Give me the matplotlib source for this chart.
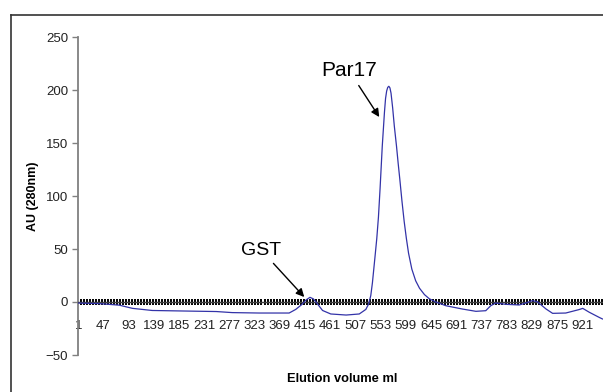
import matplotlib
matplotlib.use('Agg')
import matplotlib.pyplot as plt
from matplotlib.lines import Line2D
from matplotlib.ticker import FixedLocator, MultipleLocator

plt.rcParams['font.family'] = ['Liberation Sans', 'DejaVu Sans']

# fraction number (category) and absorbance
fraction = [1, 39, 76, 100, 136, 194, 253, 282, 331, 386, 398, 410, 417, 424, 430,
            435, 447, 462, 490, 514, 526, 531, 535, 538, 543, 546, 549, 552, 556, 560,
            562, 564, 566, 568, 570, 572, 575, 578, 582, 585, 588, 592, 596, 600, 604,
            610, 617, 624, 633, 642, 654, 672, 702, 727, 745, 754, 763, 782, 806, 818,
            830, 839, 855, 867, 891, 915, 922, 934, 952, 958]
au280 = [-1, -1.5, -3, -6, -8, -8.5, -9, -10, -10.4, -10.4, -7, -2, 2, 4.4, 3,
         0, -8, -11.3, -12.3, -11.3, -7, -2, 6, 18, 44, 60, 80, 107, 147, 179,
         192, 199, 202.5, 203.5, 202, 197, 183, 166, 147, 131, 116, 95, 76, 60, 46,
         31, 20, 13, 7, 3, 0, -3.5, -6.6, -8.8, -8.2, -3.5, -1, -2.2, -2.8, -1,
         1.3, 0.3, -6.6, -10.7, -10.4, -7.2, -6, -9.7, -14.5, -16]

xtick_labels = list(range(1, 922, 46))
ytick_values = [-50, 0, 50, 100, 150, 200, 250]

fig = plt.figure(figsize=(6.03, 3.92), dpi=100)

# outer chart border (cut off at right and bottom)
fig.add_artist(Line2D([11 / 603, 11 / 603], [0, 1 - 15 / 392], color='#333333', lw=1.2))
fig.add_artist(Line2D([11 / 603, 1], [1 - 15 / 392, 1 - 15 / 392], color='#333333', lw=1.2))

ax = fig.add_axes([78 / 603, 1 - 355 / 392, 525 / 603, 318 / 392])
ax.plot(fraction, au280, color='#3333a8', lw=0.9, zorder=3)

ax.set_xlim(0.5, 959)
ax.set_ylim(-50, 250)
ax.set_yticks(ytick_values)

for s in ['top', 'right']:
    ax.spines[s].set_visible(False)
ax.spines['left'].set_color('#808080')
ax.spines['left'].set_linewidth(1.3)
ax.spines['bottom'].set_position(('data', 0))
ax.spines['bottom'].set_color('#404040')
ax.spines['bottom'].set_linewidth(1.0)

ax.xaxis.remove_overlapping_locs = False
ax.xaxis.set_major_locator(FixedLocator(xtick_labels))
ax.set_xticklabels([str(v) for v in xtick_labels])
ax.xaxis.set_minor_locator(MultipleLocator(5.5))
ax.tick_params(axis='x', which='major', length=0, pad=13,
               labelsize=9.5, labelcolor='#222222')
ax.tick_params(axis='x', which='minor', direction='inout', length=5, width=1.4,
               color='black')
ax.tick_params(axis='y', direction='out', length=4, width=1, color='#808080',
               labelsize=9.5, labelcolor='#222222', pad=3)

ax.set_ylabel('AU (280nm)', fontsize=9, fontweight='bold', labelpad=5)
fig.text(342 / 603, 1 - 379 / 392, 'Elution volume ml', ha='center', va='center',
         fontsize=9.3, fontweight='bold')

arrow = dict(arrowstyle='-|>', color='black', lw=1.0, mutation_scale=12,
             shrinkA=2, shrinkB=0)
ax.annotate('Par17', xy=(550.5, 174.5), xytext=(495.7, 218), fontsize=15,
            ha='center', va='center', arrowprops=arrow)
ax.annotate('GST', xy=(413.6, 4.7), xytext=(335, 49), fontsize=14,
            ha='center', va='center', arrowprops=arrow)

fig.savefig('out.png', dpi=100)
